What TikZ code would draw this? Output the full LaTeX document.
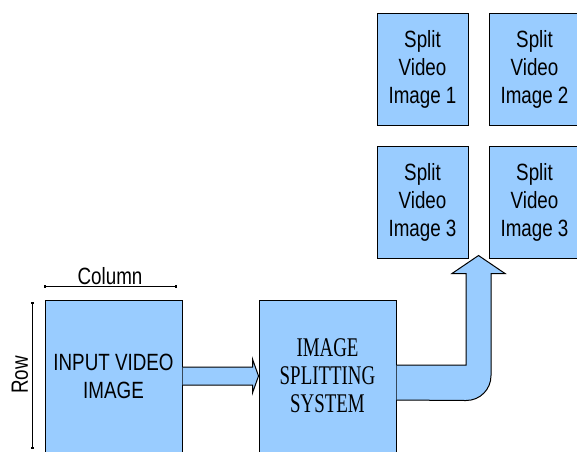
\documentclass[tikz,border=0pt]{standalone}
\usepackage{fontspec}
\setmainfont{Liberation Sans}[FakeStretch=0.8]
\newfontfamily\sysfont{Liberation Serif}[FakeStretch=0.7]
\usetikzlibrary{arrows.meta,calc}
\definecolor{boxblue}{HTML}{99CCFF}

\begin{document}
\begin{tikzpicture}[x=1pt, y=-1pt,
        every node/.style={font=\fontsize{23.5}{28}\selectfont},
        block/.style={draw=black, fill=boxblue, line width=1pt,
          align=center, inner sep=0pt},
        splitbox/.style={block, minimum width=91pt, minimum height=112pt},
        bigbox/.style={block, minimum width=137pt, minimum height=152pt},
        fatarrow/.style={draw=black, fill=boxblue, line width=1pt},
        dimline/.style={line width=0.9pt,
          {Square[length=2pt,width=2.5pt]}-{Square[length=2pt,width=2.5pt]}}]
      % Page: 577 x 451, one unit = one pixel, y runs downwards
      \useasboundingbox (0,0) rectangle (577,451);
      \clip (0,0) rectangle (577,451);

      % Main blocks (cut off by the lower page edge)
      \node[bigbox] (input) at (113.5,376) {INPUT VIDEO\\IMAGE};
      \node[bigbox, font=\sysfont\fontsize{27}{28}\selectfont]
        (system) at (327.5,376) {IMAGE\\SPLITTING\\SYSTEM};

      % Split images, 2 x 2
      \node[splitbox] (split1) at (422.5,69.5) {Split\\Video\\Image 1};
      \node[splitbox] (split2) at (534.5,69.5) {Split\\Video\\Image 2};
      \node[splitbox] (split3) at (422.5,202.5) {Split\\Video\\Image 3};
      \node[splitbox] (split4) at (534.5,202.5) {Split\\Video\\Image 3};

      % Size marks of the input image
      \draw[dimline] ($(input.north west)+(-1,-13)$) -- ($(input.north east)+(-6,-13)$)
        node[midway, above=1pt, inner sep=0pt] (colname) {Column};
      \draw[dimline] ($(input.south west)+(-12,-4)$) -- ($(input.north west)+(-12,2)$)
        node[midway, above=4pt, inner sep=0pt, sloped] (rowname) {Row};

      % Input -> splitting system
      \draw[fatarrow] ($(input.east)+(0,-9)$) -- ($(system.west)+(-6,-9)$)
        -- ($(system.west)+(-6,-17)$) -- (system.west)
        -- ($(system.west)+(-6,17)$) -- ($(system.west)+(-6,9)$)
        -- ($(input.east)+(0,9)$);

      % Splitting system -> split images (bent arrow)
      \coordinate (tip) at ($(split3.south east)!0.5!(split4.south west)+(0,-3.5)$);
      \draw[fatarrow] ($(system.east)+(0,-11)$) -| ($(tip)+(-12.5,18)$)
        -- ($(tip)+(-26.5,18)$) -- (tip) -- ($(tip)+(26.5,18)$)
        -- ($(tip)+(12.5,18)$) -- ($(tip)+(12.5,120)$)
        .. controls +(0,14) and +(14,0) .. ($(tip)+(-12.5,145)$)
        -- ($(system.east)+(0,24)$);

    \end{tikzpicture}
\end{document}
